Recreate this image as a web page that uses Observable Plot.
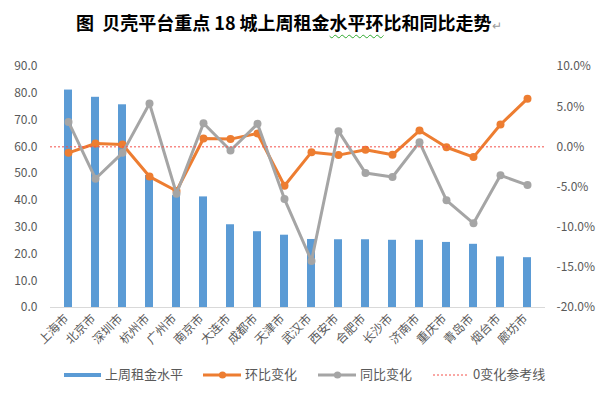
<!DOCTYPE html>
<html><head><meta charset="utf-8">
<script src="https://cdn.jsdelivr.net/npm/d3@7"></script>
<script src="https://cdn.jsdelivr.net/npm/@observablehq/plot@0.6"></script>
<style>
body{margin:0;background:#fff;font-family:"Noto Sans CJK SC","Noto Sans",sans-serif;}
#wrap{position:relative;width:599px;height:397px;overflow:hidden;background:#fff}
#title{position:absolute;left:76px;top:8px;height:28px;line-height:28px;font-size:18px;font-weight:700;color:#000;white-space:pre;}
#title .wavy{text-decoration:underline wavy #2ea82e;text-decoration-thickness:1px;text-underline-offset:4px}
#title .ret{color:#9a9a9a;font-weight:400;font-size:12px}
#chart{position:absolute;left:0;top:45px}
.lg{position:absolute;font-size:13px;color:#595959;line-height:16px;top:366px;white-space:nowrap}
.sw{position:absolute}
</style></head><body>
<div id="wrap">
  <div id="title">图  贝壳平台重点 18 城上周租金<span class="wavy">水平环</span>比和同比走势<span class="ret">↵</span></div>
  <div id="chart"></div>
  <div id="legend"></div>
</div>
<script>
const cities = ["上海市","北京市","深圳市","杭州市","广州市","南京市","大连市","成都市","天津市","武汉市","西安市","合肥市","长沙市","济南市","重庆市","青岛市","烟台市","廊坊市"];
const rentLevel = [81.2,78.5,75.7,49.3,41.8,41.3,30.9,28.3,27.0,25.4,25.3,25.3,25.1,25.1,24.3,23.6,18.9,18.6];
const momChange = [-0.75,0.42,0.30,-3.70,-5.50,1.04,0.96,1.66,-4.84,-0.66,-1.03,-0.37,-0.99,2.03,-0.05,-1.28,2.78,6.00];
const yoyChange = [3.10,-3.97,-0.75,5.39,-5.84,2.94,-0.45,2.86,-6.50,-14.20,1.95,-3.27,-3.76,0.58,-6.66,-9.52,-3.55,-4.76];
const leftTicks = [0,10,20,30,40,50,60,70,80,90];
const rightTicks = [-20,-15,-10,-5,0,5,10];
const zeroRef = [0];
const legendNames = ["上周租金水平","环比变化","同比变化","0变化参考线"];

const BLUE="#5B9BD5", ORANGE="#ED7D31", GREY="#A5A5A5", RED="#F4504A", TXT="#595959";
// map percent (right axis, -20..10) onto left scale (0..90)
const toLeft = p => (p + 20) * 3;
const rows = cities.map((c,i)=>({city:c, rent:rentLevel[i], mom:toLeft(momChange[i]), yoy:toLeft(yoyChange[i])}));

const chart = Plot.plot({
  width:599, height:310,
  marginTop:21, marginBottom:48, marginLeft:50, marginRight:54,
  style:{fontFamily:'"Noto Sans CJK SC","Noto Sans",sans-serif', fontSize:"12px", color:TXT, background:"white"},
  x:{domain:cities, paddingInner:0.71, paddingOuter:0.355, label:null},
  y:{domain:[0,90], label:null},
  marks:[
    Plot.barY(rows,{x:"city", y:"rent", fill:BLUE}),
    Plot.ruleY([0],{stroke:"#D9D9D9", strokeWidth:1.2}),
    Plot.line(rows,{x:"city", y:"mom", stroke:ORANGE, strokeWidth:3}),
    Plot.dot(rows,{x:"city", y:"mom", r:4, fill:ORANGE}),
    Plot.line(rows,{x:"city", y:"yoy", stroke:GREY, strokeWidth:3}),
    Plot.dot(rows,{x:"city", y:"yoy", r:4, fill:GREY}),
    Plot.ruleY(zeroRef.map(toLeft),{stroke:RED, strokeWidth:1, strokeDasharray:"2,2"}),
    Plot.axisY(leftTicks,{anchor:"left", tickSize:0, tickPadding:13, tickFormat:d=>d.toFixed(1), label:null, fill:TXT}),
    Plot.axisY(rightTicks.map(toLeft),{anchor:"right", tickSize:0, tickPadding:11, tickFormat:v=>(v/3-20).toFixed(1)+"%", label:null, fill:TXT}),
    Plot.axisX({tickRotate:-45, tickSize:0, tickPadding:9, dx:-2, fontSize:12, label:null, fill:TXT})
  ]
});
document.getElementById("chart").appendChild(chart);

// legend (HTML below the svg)
const lg = document.getElementById("legend");
const ns = "http://www.w3.org/2000/svg";
function sw(html, left, width){
  const s = document.createElementNS(ns,"svg");
  s.setAttribute("width",width); s.setAttribute("height",12);
  s.setAttribute("class","sw");
  s.style.left = left+"px"; s.style.top = "368.5px";
  s.innerHTML = html; lg.appendChild(s);
}
function txt(t,left){
  const d=document.createElement("div"); d.className="lg"; d.textContent=t; d.style.left=left+"px"; lg.appendChild(d);
}
sw(`<rect x="0" y="4" width="37" height="4" fill="${BLUE}"/>`,64,37);
txt(legendNames[0],105);
sw(`<line x1="0" y1="6" x2="38" y2="6" stroke="${ORANGE}" stroke-width="3"/><circle cx="19.5" cy="6" r="3.6" fill="${ORANGE}"/>`,203,39);
txt(legendNames[1],245);
sw(`<line x1="0" y1="6" x2="38" y2="6" stroke="${GREY}" stroke-width="3"/><circle cx="19.5" cy="6" r="3.6" fill="${GREY}"/>`,318,39);
txt(legendNames[2],360);
sw(`<line x1="0" y1="6" x2="35" y2="6" stroke="${RED}" stroke-width="1" stroke-dasharray="2,2"/>`,433,35);
txt(legendNames[3],473);
</script>
</body></html>
